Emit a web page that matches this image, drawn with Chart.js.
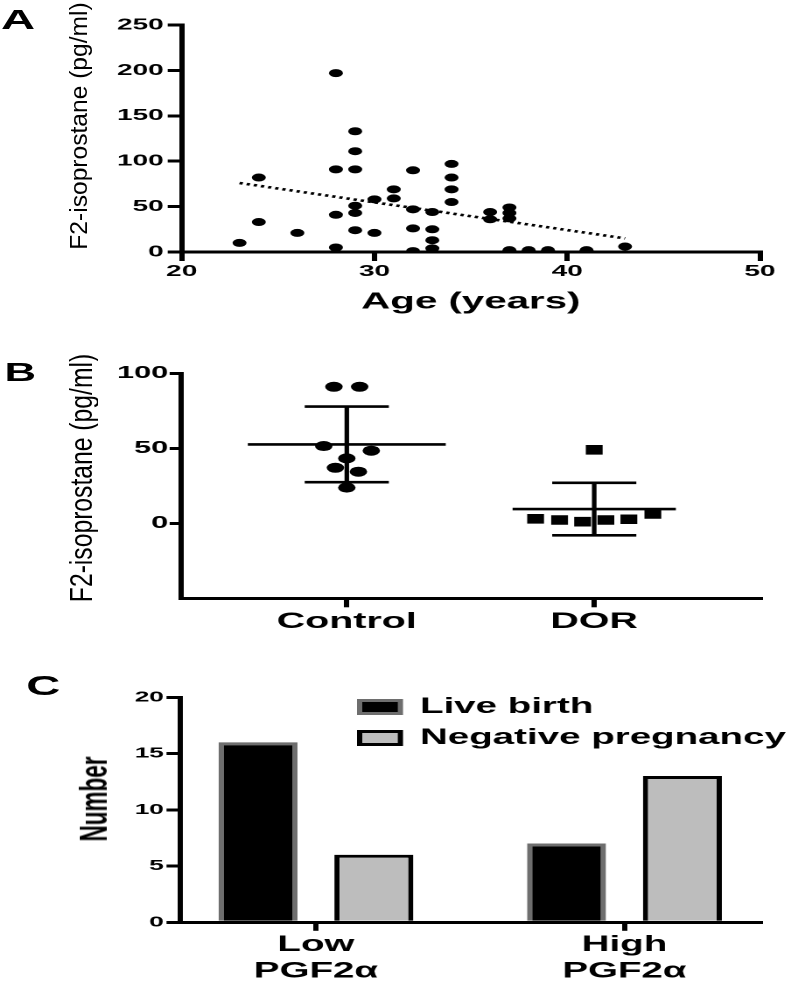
<!DOCTYPE html>
<html><head><meta charset="utf-8">
<script src="https://cdn.jsdelivr.net/npm/chart.js@4.4.1/dist/chart.umd.min.js"></script>
<style>
html,body{margin:0;padding:0;background:#fff;}
body{width:800px;height:986px;position:relative;overflow:hidden;font-family:'Liberation Sans',Arial,sans-serif;color:#000;}
#stretch{position:absolute;left:0;top:0;width:457px;height:986px;transform:scaleX(1.75);transform-origin:0 0;}
#stretch canvas{position:absolute;left:0;}
.letter{position:absolute;font-weight:bold;line-height:1;color:#000;white-space:nowrap;}
.ytitle{position:absolute;white-space:nowrap;line-height:1;color:#000;transform-origin:50% 50%;}
</style></head>
<body>
<div id="stretch">
  <canvas id="chartA" width="457" height="330" style="top:0px"></canvas>
  <canvas id="chartB" width="457" height="315" style="top:330px"></canvas>
  <canvas id="chartC" width="457" height="341" style="top:645px"></canvas>
  <div class="letter" style="left:0.5px;top:6.5px;font-size:27px">A</div>
  <div class="letter" style="left:2.5px;top:359.7px;font-size:25px">B</div>
  <div class="letter" style="left:15px;top:673px;font-size:27px">C</div>
</div>
<div class="ytitle" style="left:79px;top:126px;font-size:24.6px;transform:translate(-50%,-50%) rotate(-90deg)">F2-isoprostane (pg/ml)</div>
<div class="ytitle" style="left:81.7px;top:477.5px;font-size:24.7px;transform:translate(-50%,-50%) scaleX(1.25) rotate(-90deg)">F2-isoprostane (pg/ml)</div>
<div class="ytitle" style="left:94.5px;top:799px;font-size:22.5px;font-weight:bold;transform:translate(-50%,-50%) scaleX(1.75) rotate(-90deg)">Number</div>
<script>
// ---------- DATA ----------
// Panel A: age vs F2-isoprostane
const ageYears = [23, 24, 24, 26, 28, 28, 28, 28, 29, 29, 29, 29, 29, 29, 30, 30, 31, 31, 32, 32, 32, 32, 33, 33, 33, 33, 34, 34, 34, 34, 36, 36, 37, 37, 37, 37, 38, 39, 41, 43];
const f2Iso    = [10, 82, 33, 21, 197, 91, 41, 5, 133, 111, 91, 51, 43, 24, 58, 21, 69, 59, 90, 47, 26, 1, 44, 25, 13, 4, 97, 82, 69, 55, 44, 36, 49, 43, 37, 2, 2, 2, 2, 6];
const trendAge = [23, 43];
const trendF2  = [76, 15];
const ageTicks = [20, 30, 40, 50];
const f2TicksA = [0, 50, 100, 150, 200, 250];

// Panel B: Control vs DOR
const groupLabels = ['Control', 'DOR'];
const groupPos = [1, 2];
const controlF2 = [91, 91, 51.5, 48.4, 43.3, 37, 34.4, 23.8];
const controlSpread = [-0.052, 0.052, -0.093, 0.099, 0, -0.046, 0.047, 0];
const dorF2 = [49, 3, 2.2, 1.1, 2.2, 2.7, 6.2];
const dorSpread = [0, -0.237, -0.14, -0.047, 0.047, 0.14, 0.237];
const groupMean = [52.6, 9.5];
const groupSD = [25.2, 17.5];
const f2TicksB = [-50, 0, 50, 100];

// Panel C: PGF2a vs outcome
const pgfLabels = [['Low', 'PGF2α'], ['High', 'PGF2α']];
const liveBirth = [16, 7];
const negativePregnancy = [6, 13];
const countTicks = [0, 5, 10, 15, 20];

// ---------- STYLE HELPERS ----------
Chart.defaults.font.family = "'Liberation Sans', Arial, sans-serif";
Chart.defaults.color = '#000';
const BLACK = '#000';
const border = {display: true, width: 3, color: BLACK};
function tickGrid(len) {
  return {display: true, drawOnChartArea: false, drawTicks: true, tickLength: len, tickWidth: 3, tickColor: BLACK, color: BLACK, lineWidth: 3, offset: false};
}
const baseOpts = {
  responsive: false, maintainAspectRatio: false, animation: false, devicePixelRatio: 2,
  events: [],
};

// ---------- PANEL A ----------
new Chart(document.getElementById('chartA'), {
  type: 'scatter',
  data: {
    datasets: [
      {
        label: 'F2-isoprostane',
        data: ageYears.map((a, i) => ({x: a, y: f2Iso[i]})),
        pointStyle: 'circle', pointRadius: 4, pointHoverRadius: 4,
        pointBackgroundColor: BLACK, pointBorderWidth: 0, borderColor: BLACK, backgroundColor: BLACK
      },
      {
        label: 'Linear fit', type: 'line',
        data: trendAge.map((a, i) => ({x: a, y: trendF2[i]})),
        borderColor: BLACK, borderWidth: 2.6, borderDash: [1.9, 2.3], pointRadius: 0, fill: false, tension: 0
      }
    ]
  },
  options: Object.assign({}, baseOpts, {
    layout: {padding: {left: 0, right: 22.71, top: 25, bottom: 0}},
    plugins: {legend: {display: false}, tooltip: {enabled: false}},
    scales: {
      x: {
        type: 'linear', min: ageTicks[0], max: ageTicks[ageTicks.length - 1],
        afterFit: s => { s.height = 78; },
        afterBuildTicks: s => { s.ticks = ageTicks.map(v => ({value: v})); },
        ticks: {font: {size: 16, weight: 'bold'}, padding: 1.2, maxRotation: 0, autoSkip: false},
        grid: tickGrid(9), border: border,
        title: {display: true, text: 'Age (years)', font: {size: 23, weight: 'bold'}, padding: {top: 0, bottom: 14.2}}
      },
      y: {
        type: 'linear', min: f2TicksA[0], max: f2TicksA[f2TicksA.length - 1],
        afterFit: s => { s.width = 103.83; },
        afterBuildTicks: s => { s.ticks = f2TicksA.map(v => ({value: v})); },
        ticks: {font: {size: 16, weight: 'bold'}, padding: 2.3, autoSkip: false},
        grid: tickGrid(8), border: border
      }
    }
  })
});

// ---------- PANEL B ----------
const meanHalf = [0.4, 0.33];
const capHalf = 0.17;
const barDatasets = [];
groupPos.forEach((g, i) => {
  const m = groupMean[i], sd = groupSD[i];
  const segs = [
    [{x: g - meanHalf[i], y: m}, {x: g + meanHalf[i], y: m}],
    [{x: g, y: m - sd}, {x: g, y: m + sd}],
    [{x: g - capHalf, y: m + sd}, {x: g + capHalf, y: m + sd}],
    [{x: g - capHalf, y: m - sd}, {x: g + capHalf, y: m - sd}]
  ];
  segs.forEach((seg, k) => barDatasets.push({
    label: groupLabels[i] + ' mean±SD ' + k, type: 'line', data: seg,
    borderColor: BLACK, borderWidth: 2.6, pointRadius: 0, fill: false, tension: 0
  }));
});
new Chart(document.getElementById('chartB'), {
  type: 'scatter',
  data: {
    datasets: [
      {
        label: groupLabels[0],
        data: controlF2.map((v, i) => ({x: groupPos[0] + controlSpread[i], y: v})),
        pointStyle: 'circle', pointRadius: 5, pointHoverRadius: 5,
        pointBackgroundColor: BLACK, pointBorderWidth: 0, backgroundColor: BLACK, borderColor: BLACK
      },
      {
        label: groupLabels[1],
        data: dorF2.map((v, i) => ({x: groupPos[1] + dorSpread[i], y: v})),
        pointStyle: 'rect', pointRadius: 6.8, pointHoverRadius: 6.8,
        pointBackgroundColor: BLACK, pointBorderWidth: 0, backgroundColor: BLACK, borderColor: BLACK
      }
    ].concat(barDatasets)
  },
  options: Object.assign({}, baseOpts, {
    layout: {padding: {left: 0, right: 22.71, top: 43.3, bottom: 0}},
    plugins: {legend: {display: false}, tooltip: {enabled: false}},
    scales: {
      x: {
        type: 'linear', min: 0.33, max: 2.67,
        afterFit: s => { s.height = 46.7; },
        afterBuildTicks: s => { s.ticks = groupPos.map(v => ({value: v})); },
        ticks: {font: {size: 22.5, weight: 'bold'}, padding: 1.2, maxRotation: 0, autoSkip: false,
                callback: v => groupLabels[groupPos.indexOf(v)]},
        grid: tickGrid(9), border: border
      },
      y: {
        type: 'linear', min: f2TicksB[0], max: f2TicksB[f2TicksB.length - 1],
        afterFit: s => { s.width = 103.43; },
        afterBuildTicks: s => { s.ticks = f2TicksB.map(v => ({value: v})); },
        ticks: {font: {size: 17.5, weight: 'bold'}, padding: 0.8, autoSkip: false,
                callback: v => (v < 0 ? null : String(v))},
        grid: tickGrid(6.5), border: border
      }
    }
  })
});

// ---------- PANEL C ----------
const boxLegend = {
  id: 'boxLegend',
  afterDraw(chart, args, opts) {
    const ctx = chart.ctx;
    chart.data.datasets.forEach((ds, i) => {
      const cy = opts.rows[i];
      const bw = ds.borderWidth;
      ctx.save();
      ctx.fillStyle = ds.backgroundColor;
      ctx.fillRect(opts.x + bw / 2, cy - opts.h / 2 + bw / 2, opts.w - bw, opts.h - bw);
      ctx.lineWidth = bw;
      ctx.strokeStyle = ds.borderColor;
      ctx.strokeRect(opts.x + bw / 2, cy - opts.h / 2 + bw / 2, opts.w - bw, opts.h - bw);
      ctx.fillStyle = BLACK;
      ctx.font = "bold " + opts.fontSize + "px 'Liberation Sans', Arial, sans-serif";
      ctx.textBaseline = 'middle';
      ctx.textAlign = 'left';
      ctx.fillText(ds.label, opts.textX, cy);
      ctx.restore();
    });
  }
};
new Chart(document.getElementById('chartC'), {
  type: 'bar',
  data: {
    datasets: [
      {
        label: 'Live birth',
        data: liveBirth.map((v, i) => ({x: groupPos[i], y: v})),
        backgroundColor: '#000000', borderColor: '#6e6e6e', borderWidth: 3,
        categoryPercentage: 0.751, barPercentage: 0.682
      },
      {
        label: 'Negative pregnancy',
        data: negativePregnancy.map((v, i) => ({x: groupPos[i], y: v})),
        backgroundColor: '#bdbdbd', borderColor: '#000000', borderWidth: 3,
        categoryPercentage: 0.751, barPercentage: 0.682
      }
    ]
  },
  options: Object.assign({}, baseOpts, {
    layout: {padding: {left: 0, right: 22.6, top: 52.3, bottom: 0}},
    plugins: {
      legend: {display: false}, tooltip: {enabled: false},
      boxLegend: {x: 204, w: 26.3, h: 16, rows: [62, 93], textX: 240, fontSize: 22}
    },
    scales: {
      x: {
        type: 'linear', min: 0.561, max: 2.44, offset: false,
        afterFit: s => { s.height = 63.7; },
        afterBuildTicks: s => { s.ticks = groupPos.map(v => ({value: v})); },
        ticks: {font: {size: 22, weight: 'bold', lineHeight: 1.21}, padding: 0.8, maxRotation: 0, autoSkip: false,
                callback: v => pgfLabels[groupPos.indexOf(v)]},
        grid: tickGrid(8.5), border: border
      },
      y: {
        type: 'linear', min: countTicks[0], max: countTicks[countTicks.length - 1],
        afterFit: s => { s.width = 103.14; },
        afterBuildTicks: s => { s.ticks = countTicks.map(v => ({value: v})); },
        ticks: {font: {size: 15, weight: 'bold'}, padding: 1.5, autoSkip: false},
        grid: tickGrid(8), border: border
      }
    }
  }),
  plugins: [boxLegend]
});
</script>
</body></html>
